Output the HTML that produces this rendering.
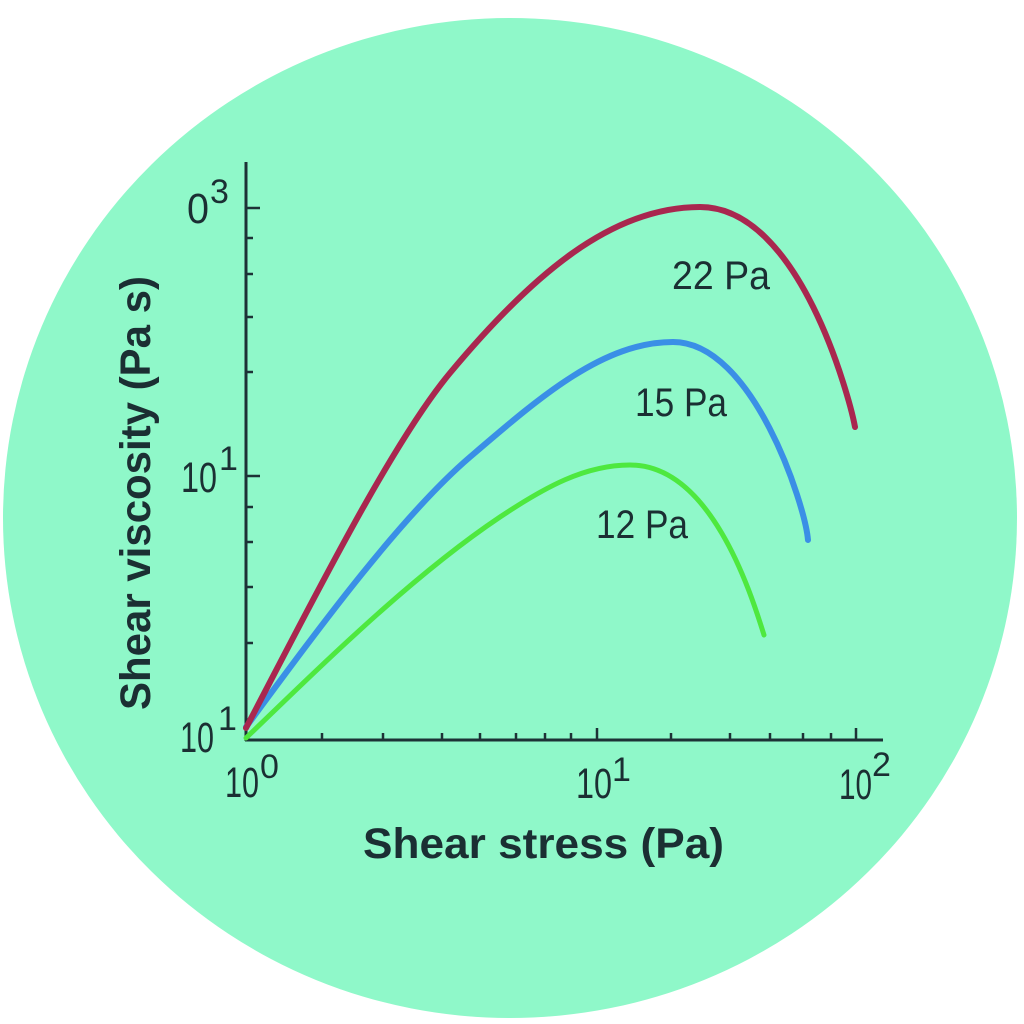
<!DOCTYPE html>
<html>
<head>
<meta charset="utf-8">
<style>
  html, body { margin: 0; padding: 0; background: #ffffff; }
  body { width: 1024px; height: 1024px; overflow: hidden; }
  svg { display: block; }
  text { font-family: "Liberation Sans", "DejaVu Sans", sans-serif; fill: #1b2f33; }
  .tick { font-size: 43px; }
  .sup { font-size: 34px; }
  .lab { font-size: 40px; }
  .axl { font-size: 43px; font-weight: bold; }
</style>
</head>
<body>
<svg width="1024" height="1024" viewBox="0 0 1024 1024" xmlns="http://www.w3.org/2000/svg">
  <rect width="1024" height="1024" fill="#ffffff"/>
  <ellipse cx="510" cy="518" rx="507" ry="500" fill="#8ff8c9"/>

  <!-- axes -->
  <g stroke="#1d3236" stroke-width="3" fill="none" stroke-linecap="butt">
    <line x1="246" y1="162" x2="246" y2="741"/>
    <line x1="245" y1="740" x2="883" y2="740"/>
  </g>
  <!-- y ticks -->
  <g stroke="#1d3236" stroke-width="2.5">
    <line x1="246" y1="208" x2="260" y2="208"/>
    <line x1="246" y1="476" x2="260" y2="476"/>
    <line x1="246" y1="238" x2="253" y2="238"/>
    <line x1="246" y1="274" x2="253" y2="274"/>
    <line x1="246" y1="317" x2="253" y2="317"/>
    <line x1="246" y1="372" x2="253" y2="372"/>
    <line x1="246" y1="507" x2="253" y2="507"/>
    <line x1="246" y1="542" x2="253" y2="542"/>
    <line x1="246" y1="587" x2="253" y2="587"/>
    <line x1="246" y1="643" x2="253" y2="643"/>
  </g>
  <!-- x ticks -->
  <g stroke="#1d3236" stroke-width="2.5">
    <line x1="597" y1="740" x2="597" y2="728"/>
    <line x1="856" y1="740" x2="856" y2="728"/>
    <line x1="322" y1="740" x2="322" y2="733"/>
    <line x1="383" y1="740" x2="383" y2="733"/>
    <line x1="442" y1="740" x2="442" y2="733"/>
    <line x1="480" y1="740" x2="480" y2="733"/>
    <line x1="516" y1="740" x2="516" y2="733"/>
    <line x1="545" y1="740" x2="545" y2="733"/>
    <line x1="571" y1="740" x2="571" y2="733"/>
    <line x1="671" y1="740" x2="671" y2="733"/>
    <line x1="730" y1="740" x2="730" y2="733"/>
    <line x1="770" y1="740" x2="770" y2="733"/>
    <line x1="803" y1="740" x2="803" y2="733"/>
    <line x1="831" y1="740" x2="831" y2="733"/>
  </g>

  <!-- curves -->
  <g fill="none" stroke-linejoin="round" stroke-linecap="round">
    <path stroke="#4ee83f" stroke-width="5"
      d="M246,738 C331,656 415,574 500,517 C545,487 585,465 630,465 C710,465 750,590 764,635"/>
    <path stroke="#3a8fe6" stroke-width="6"
      d="M246,727 C316,632 400,517 470,457 C540,397 603,342 673,342 C753,342 805,505 808,540"/>
    <path stroke="#a9274f" stroke-width="6"
      d="M246,728 C306,614 390,445 450,373 C530,277 610,207 700,207 C800,207 850,400 855,427"/>
  </g>

  <!-- curve labels -->
  <text class="lab" x="672" y="289" textLength="98" lengthAdjust="spacingAndGlyphs">22 Pa</text>
  <text class="lab" x="635" y="416" textLength="92" lengthAdjust="spacingAndGlyphs">15 Pa</text>
  <text class="lab" x="596" y="538" textLength="92" lengthAdjust="spacingAndGlyphs">12 Pa</text>

  <!-- y tick labels -->
  <text class="tick" x="187" y="223" textLength="22" lengthAdjust="spacingAndGlyphs">0</text>
  <text class="sup" x="210" y="203">3</text>
  <text class="tick" x="181" y="492" textLength="36" lengthAdjust="spacingAndGlyphs">10</text>
  <text class="sup" x="219" y="470">1</text>
  <text class="tick" x="180" y="752" textLength="34" lengthAdjust="spacingAndGlyphs">10</text>
  <text class="sup" x="218" y="730">1</text>

  <!-- x tick labels -->
  <text class="tick" x="225" y="797" textLength="34" lengthAdjust="spacingAndGlyphs">10</text>
  <text class="sup" x="260" y="778">0</text>
  <text class="tick" x="576" y="798" textLength="36" lengthAdjust="spacingAndGlyphs">10</text>
  <text class="sup" x="612" y="781">1</text>
  <text class="tick" x="839" y="799" textLength="33" lengthAdjust="spacingAndGlyphs">10</text>
  <text class="sup" x="872" y="776">2</text>

  <!-- axis titles -->
  <text class="axl" x="363" y="858" textLength="361" lengthAdjust="spacingAndGlyphs">Shear stress (Pa)</text>
  <text class="axl" transform="translate(150,710) rotate(-90)" x="0" y="0" textLength="434" lengthAdjust="spacingAndGlyphs">Shear viscosity (Pa s)</text>
</svg>
</body>
</html>
